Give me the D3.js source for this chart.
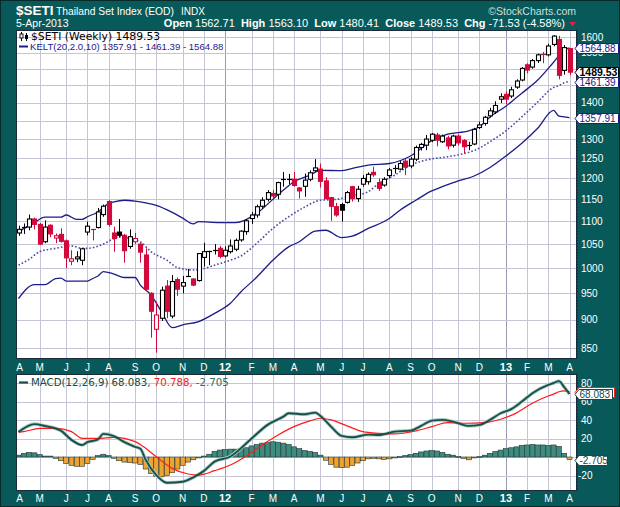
<!DOCTYPE html>
<html><head><meta charset="utf-8">
<script src="https://cdn.jsdelivr.net/npm/d3@7"></script>
<style>html,body{margin:0;padding:0;background:#085a5a;} svg{display:block}</style>
</head><body><svg id="c" width="620" height="507"></svg>
<script>
// ---- data (weekly bars, 8-Apr-2011 .. 5-Apr-2013) ----
const openP = [1074,1084,1087,1105,1093,1055,1091,1063,1071,1057, 1014,1019,1016,1076,1082,1086,1115,1145,1074,1076, 1069,1045,1055,1050,1027,950,883,903,964,907, 977,964,984,978,975,1022,1034,1034,1041,1025, 1034,1039,1059,1077,1106,1114,1134,1150,1164,1162, 1198,1197,1198,1177,1181,1198,1219,1223,1194,1154, 1133,1138,1143,1180,1152,1186,1192,1215,1190,1184, 1207,1224,1223,1243,1231,1248,1278,1284,1297,1311, 1293,1303,1284,1308,1296,1282,1287,1331,1342,1363, 1374,1410,1424,1419,1445,1466,1512,1505,1525,1545, 1543,1576,1592,1495,1562.71];
const highP = [1090,1095,1115,1108,1096,1102,1093,1073,1084,1060, 1037,1035,1042,1099,1083,1130,1138,1148,1088,1105, 1072,1082,1074,1053,1041,952,934,963,976,986, 981,984,998,980,1031,1053,1036,1050,1046,1045, 1060,1062,1080,1105,1121,1138,1155,1172,1172,1192, 1216,1211,1216,1179,1212,1220,1248,1237,1203,1156, 1142,1142,1170,1182,1182,1208,1215,1229,1200,1203, 1226,1233,1243,1248,1253,1283,1290,1311,1316,1317, 1312,1309,1312,1313,1300,1293,1330,1347,1363,1385, 1404,1427,1432,1446,1468,1505,1517,1530,1547,1552, 1578,1606,1604,1574,1563.10];
const lowP = [1068,1072,1080,1082,1048,1052,1065,1052,1053,1000, 1006,1012,1006,1069,1058,1084,1110,1088,1034,1064, 1011,1040,1050,1011,955,868,842,898,903,903, 945,950,983,964,973,1003,1006,1028,1020,1022, 1030,1035,1055,1070,1094,1108,1128,1145,1148,1150, 1180,1186,1180,1152,1156,1193,1216,1178,1150,1101, 1110,1099,1140,1145,1144,1180,1185,1204,1170,1180, 1200,1212,1220,1208,1225,1243,1270,1271,1292,1281, 1290,1273,1278,1283,1262,1271,1284,1327,1336,1358, 1368,1399,1396,1413,1440,1462,1486,1500,1518,1517, 1538,1570,1468,1482,1480.41];
const closeP = [1082,1087,1105,1093,1050,1087,1072,1068,1056,1021, 1019,1023,1040,1089,1079,1121,1134,1093,1062,1069, 1036,1066,1062,1033,958,916,909,956,916,973, 958,971,985,966,1030,1034,1035,1037,1024,1037, 1046,1058,1078,1101,1114,1133,1148,1166,1158,1190, 1196,1198,1183,1170,1196,1214,1226,1193,1152,1134, 1114,1125,1166,1152,1174,1200,1210,1209,1176,1198, 1221,1225,1237,1228,1248,1278,1286,1300,1313,1297, 1308,1282,1308,1290,1280,1284,1326,1338,1359,1377, 1392,1417,1410,1437,1463,1501,1496,1525,1543,1541, 1571,1603,1480,1566,1489.53];

// Keltner channel readings [barIndex, value]
const keltUpper = [[0,1077],[3,1097],[5,1109],[8,1109],[9,1114],[11,1104],[12,1104],[13,1110],[15,1121],[17,1140],[18,1144],[20,1148],[22,1146],[24,1142],[26,1136],[29,1120],[31,1107],[33,1094],[34,1099],[38,1097],[41,1097],[45,1118],[48,1150],[50,1172],[52,1192],[55,1208],[57,1220],[61,1219],[63,1225],[66,1233],[70,1237],[74,1256],[78,1296],[81,1313],[85,1322],[87,1333],[89,1360],[92,1390],[95,1427],[98,1466],[101,1520],[103,1558],[104,1564.88]];
const keltMiddle = [[0,1006],[2,1018],[4,1034],[7,1041],[10,1046],[12,1041],[13,1041],[16,1050],[18,1062],[19,1066],[21,1062],[23,1055],[25,1034],[28,1016],[30,1001],[33,996],[35,999],[37,1006],[40,1016],[42,1025],[45,1052],[48,1084],[51,1110],[54,1132],[57,1148],[60,1150],[62,1156],[66,1168],[68,1188],[71,1208],[74,1233],[77,1246],[81,1254],[84,1262],[86,1270],[89,1293],[92,1322],[95,1360],[98,1402],[101,1444],[102,1449],[103,1458],[104,1461.39]];
const keltLower = [[0,940],[3,967],[5,967],[7,979],[8,980],[9,974],[13,974],[14,979],[15,984],[16,993],[18,988],[20,981],[22,981],[23,966],[25,947],[27,915],[29,886],[31,891],[34,897],[37,912],[40,931],[42,953],[45,982],[48,1016],[51,1044],[53,1055],[56,1078],[58,1080],[61,1064],[63,1067],[66,1084],[70,1106],[72,1125],[75,1148],[78,1170],[80,1180],[83,1194],[86,1206],[89,1227],[92,1256],[95,1289],[98,1329],[101,1378],[102,1362],[103,1360],[104,1357.91]];

// MACD(12,26,9) readings [barIndex, value]
const macdLine = [[0,27],[3,35.5],[5,33.5],[8,28.5],[10,18.5],[12,13],[13,16],[15,19],[16,25],[18,22.5],[20,16],[22,11],[23,9],[24,-3],[26,-19.5],[28,-27.8],[31,-26.7],[33,-22],[35,-15],[37,-5],[40,0.5],[41,4.7],[44,20],[47,34.7],[50,43.7],[51,47.3],[54,46.2],[56,48],[57,44.4],[59,32.8],[61,22.8],[63,21.3],[66,24.2],[68,23.8],[71,27.4],[74,28.5],[76,33.6],[78,39.3],[80,40.1],[82,38.3],[85,33.6],[87,34.7],[89,40.1],[91,47.3],[93,51.7],[95,59.9],[97,69],[100,78],[101,80],[102,82],[103,75.5],[104,68.083]];
const signalLine = [[0,27],[1,27.4],[4,31],[7,31],[10,27.4],[12,20.2],[15,20.2],[18,21.3],[22,16.6],[24,9.4],[26,0.3],[29,-12.3],[32,-18.4],[34,-19.5],[37,-14.8],[40,-8.7],[43,1.1],[46,13],[49,23.8],[52,32.8],[55,39],[57,41.9],[59,40.1],[62,33.6],[65,27.4],[68,25.6],[71,24.9],[75,28.2],[78,32.8],[81,37.2],[84,36.5],[88,37.2],[91,40.8],[94,47.7],[97,58.2],[100,66],[101,68],[102,70.5],[103,71.5],[104,70.788]];
const macdHist = [2,4,5,4.5,2.5,1,1,-1.5,-4,-7, -9,-10,-10,-7,-2.5,1.5,3,1.5,-1.5,-4, -5.5,-6,-6.5,-8,-13,-18,-21,-21.5,-20,-17, -13,-9,-5.5,-3,-1,1,3,6,7.5,8, 8.5,8.5,9,10,12,13.5,15,15.5,16.5,16, 15,13.5,11,9,7,6,5,2,-3.5,-8, -11,-11.5,-11,-9,-6.5,-4,-2,-1.5,-2,-2.5, -2,-1,0.5,1.5,2.5,4,5.5,6.5,7,6.5, 5,3,2,0.5,-1.5,-3,-1,0.5,2,4, 6,7.5,9,10,11,12.5,13,13.5,13,13, 12.5,13,11.5,4,-2.705];

const priceTicks = [850,900,950,1000,1050,1100,1150,1200,1250,1300,1350,1400,1450,1500,1550,1600];
const macdTicks = [-20,0,20,40,60,80];
const monthIdx = [0,4,9,13,17,22,26,31,35,39,44,48,52,57,61,65,70,74,78,83,87,92,96,100,104];
const monthLabels = ["A","M","J","J","A","S","O","N","D","12","F","M","A","M","J","J","A","S","O","N","D","13","F","M","A"];

// ---- layout ----
const svg = d3.select("#c");
const TEAL = "#085a5a";
const P = {l:16, r:576, t:30, b:358};
const M = {l:16, r:576, t:374, b:490};
const x = d3.scaleLinear().domain([0,104]).range([18.5,569.5]);
const y = d3.scaleLog().domain([850,1600]).range([348,37]);
const ym = d3.scaleLinear().domain([-20,80]).range([475.5,383]);
const sans = "'Liberation Sans', Arial, sans-serif";
const dv = "'DejaVu Sans', Verdana, sans-serif";

svg.append("rect").attr("width",620).attr("height",507).attr("fill",TEAL);

function panel(R){
  svg.append("rect").attr("x",R.l+0.5).attr("y",R.t+0.5).attr("width",R.r-R.l).attr("height",R.b-R.t).attr("fill","#fff");
}
panel(P); panel(M);

// gridlines
const gridC = "#c5c5d6", yearC = "#9a9aae";
function vgrid(R){
  monthIdx.forEach((mi,k)=>{
    if(mi===0) return;
    const xx = Math.round(x(mi))+0.5;
    const yr = /\d/.test(monthLabels[k]);
    svg.append("line").attr("x1",xx).attr("x2",xx).attr("y1",R.t).attr("y2",R.b)
      .attr("stroke", yr?yearC:gridC).attr("stroke-width",1);
  });
}
vgrid(P); vgrid(M);
priceTicks.forEach(v=>{
  const yy = Math.round(y(v))+0.5;
  svg.append("line").attr("x1",P.l).attr("x2",P.r).attr("y1",yy).attr("y2",yy).attr("stroke",gridC);
});
macdTicks.forEach(v=>{
  const yy = Math.round(ym(v))+0.5;
  svg.append("line").attr("x1",M.l).attr("x2",M.r).attr("y1",yy).attr("y2",yy).attr("stroke",gridC);
});

// Keltner channels
const kline = d3.line().x(d=>x(d[0])).y(d=>y(d[1])).curve(d3.curveMonotoneX);
svg.append("path").attr("d",kline(keltUpper)).attr("fill","none").attr("stroke","#1c1c8a").attr("stroke-width",1.3);
svg.append("path").attr("d",kline(keltLower)).attr("fill","none").attr("stroke","#1c1c8a").attr("stroke-width",1.3);
svg.append("path").attr("d",kline(keltMiddle)).attr("fill","none").attr("stroke","#4a4aa8").attr("stroke-width",1.6).attr("stroke-dasharray","1.6,2");

// candles
const RED = "#d20a3c";
const cg = svg.append("g");
openP.forEach((o,i)=>{
  const c = closeP[i], h = highP[i], l = lowP[i];
  const prev = i>0 ? closeP[i-1] : o;
  const col = c >= prev ? "#000" : RED;
  const hollow = c >= o;
  const cx = Math.round(x(i))+0.5;
  cg.append("line").attr("x1",cx).attr("x2",cx).attr("y1",y(h)).attr("y2",y(l)).attr("stroke",col).attr("stroke-width",1);
  const top = y(Math.max(o,c)), bot = y(Math.min(o,c));
  const hgt = Math.max(bot-top, 1);
  if (bot-top < 1.5) {
    cg.append("line").attr("x1",cx-2.5).attr("x2",cx+2.5).attr("y1",Math.round(top)+0.5).attr("y2",Math.round(top)+0.5).attr("stroke",col).attr("stroke-width",1.2);
  } else {
    cg.append("rect").attr("x",cx-2).attr("y",top).attr("width",4).attr("height",hgt)
      .attr("fill", hollow ? "#fff" : col).attr("stroke",col).attr("stroke-width",1.1);
  }
});

// MACD histogram
const bw = (x(1)-x(0)) - 0.3;
macdHist.forEach((v,i)=>{
  const y0 = ym(0), y1 = ym(v);
  svg.append("rect").attr("x",x(i)-bw/2).attr("y",Math.min(y0,y1)).attr("width",bw).attr("height",Math.max(Math.abs(y1-y0),0.8))
    .attr("fill", v>=0 ? "#3e8c7f" : "#f0a22e").attr("stroke","#1f3535").attr("stroke-width",0.6);
});
const mline = d3.line().x(d=>x(d[0])).y(d=>ym(d[1])).curve(d3.curveMonotoneX);
svg.append("path").attr("d",mline(macdLine)).attr("fill","none").attr("stroke","#a9cfc8").attr("stroke-width",3.6);
svg.append("path").attr("d",mline(signalLine)).attr("fill","none").attr("stroke","#ff1a1a").attr("stroke-width",1.2);
svg.append("path").attr("d",mline(macdLine)).attr("fill","none").attr("stroke","#1d4f4a").attr("stroke-width",1.9);

// frames
[P,M].forEach(R=>{
  svg.append("rect").attr("x",R.l+0.5).attr("y",R.t+0.5).attr("width",R.r-R.l).attr("height",R.b-R.t)
    .attr("fill","none").attr("stroke","#1b2b3b").attr("stroke-width",1);
  svg.append("line").attr("x1",R.r+1.5).attr("x2",R.r+1.5).attr("y1",R.t).attr("y2",R.b)
    .attr("stroke","#10304a").attr("stroke-dasharray","1,2");
});

// legends
const lg = svg.append("g");
// candle icon
lg.append("line").attr("x1",21.5).attr("x2",21.5).attr("y1",32).attr("y2",41).attr("stroke","#000");
lg.append("rect").attr("x",20).attr("y",34).attr("width",3).attr("height",4).attr("fill","#fff").attr("stroke","#000").attr("stroke-width",0.9);
lg.append("line").attr("x1",26.5).attr("x2",26.5).attr("y1",33).attr("y2",41).attr("stroke","#000");
lg.append("rect").attr("x",25).attr("y",35).attr("width",3).attr("height",4).attr("fill","#000");
lg.append("text").attr("x",31).attr("y",39.5).attr("font-family",dv).attr("font-size",10.8).attr("fill","#000").text("$SETI (Weekly) 1489.53");
lg.append("line").attr("x1",19).attr("x2",28).attr("y1",46.5).attr("y2",46.5).attr("stroke","#1c1c8a").attr("stroke-width",2);
lg.append("text").attr("x",30).attr("y",50).attr("font-family",sans).attr("font-size",9.6).attr("fill","#1c1c8a").text("KELT(20,2.0,10) 1357.91 - 1461.39 - 1564.88");

lg.append("line").attr("x1",19).attr("x2",28).attr("y1",382.5).attr("y2",382.5).attr("stroke","#1d4f4a").attr("stroke-width",2.2);
const mt = lg.append("text").attr("x",31).attr("y",386).attr("font-family",dv).attr("font-size",10.2);
mt.append("tspan").attr("fill","#184a46").text("MACD(12,26,9) 68.083, ");
mt.append("tspan").attr("fill","#ee1c1c").text("70.788, ");
mt.append("tspan").attr("fill","#2e6e66").text("-2.705");

// header
const hd = svg.append("g").attr("fill","#fff");
hd.append("text").attr("x",16).attr("y",14.5).attr("font-family",sans).attr("font-weight","bold").attr("font-size",13.5).text("$SETI");
hd.append("text").attr("x",56).attr("y",14.5).attr("font-family",sans).attr("font-size",10.3).text("Thailand Set Index (EOD)");
hd.append("text").attr("x",181).attr("y",14.5).attr("font-family",sans).attr("font-size",10).text("INDX");
hd.append("text").attr("x",576).attr("y",14.5).attr("text-anchor","end").attr("font-family",sans).attr("font-size",10.5).attr("fill","#cfdede").text("\u00A9StockCharts.com");
hd.append("text").attr("x",16).attr("y",27).attr("font-family",sans).attr("font-size",10.5).text("5-Apr-2013");
const info = hd.append("text").attr("x",565).attr("y",27).attr("text-anchor","end").attr("font-family",sans).attr("font-size",11);
[["Open",1],[" 1562.71  ",0],["High",1],[" 1563.10  ",0],["Low",1],[" 1480.41  ",0],["Close",1],[" 1489.53  ",0],["Chg",1],[" -71.53 (-4.58%)",0]]
  .forEach(([t,b])=>info.append("tspan").attr("font-weight",b?"bold":"normal").attr("xml:space","preserve").text(t));
info.attr("style","white-space:pre");
hd.append("path").attr("d","M569,22 L576,22 L572.5,26.5 Z").attr("fill","#e0204a");

// x-axis labels
[370.5, 501.5].forEach(yy=>{
  monthIdx.forEach((mi,k)=>{
    const yr = /\d/.test(monthLabels[k]);
    svg.append("text").attr("x",x(mi)+(mi===0?1:0)).attr("y",yy).attr("text-anchor","middle")
      .attr("font-family",sans).attr("font-size",yr?11:10).attr("font-weight",yr?"bold":"normal")
      .attr("fill","#fff").text(monthLabels[k]);
  });
});

// right axis labels
const boxesMain = [[1564.88,"#1c1c8a",false],[1489.53,"#000",true],[1461.39,"#1c1c8a",false],[1357.91,"#1c1c8a",false]];
priceTicks.forEach(v=>{
  const yy = y(v);
  if (boxesMain.some(b=>Math.abs(y(b[0])-yy)<4)) return;
  svg.append("text").attr("x",581).attr("y",yy+3.5).attr("font-family",sans).attr("font-size",10).attr("fill","#fff").text(v);
});
const macdBoxVals = [70.788, 68.083, -2.705];
macdTicks.forEach(v=>{
  const yy = ym(v);
  if (Math.abs(yy-ym(-2.705))<4) return;
  svg.append("text").attr("x",v<0?578:581).attr("y",yy+3.5).attr("font-family",sans).attr("font-size",10).attr("fill","#fff").text(v);
});

function valueBox(cy, txt, col, bold, x1){
  const x0 = 575;
  svg.append("path").attr("d",`M${x0},${cy} L${x0+4},${cy-5} L${x1},${cy-5} L${x1},${cy+5} L${x0+4},${cy+5} Z`)
    .attr("fill","#fff").attr("stroke",col).attr("stroke-width",1);
  if (txt) svg.append("text").attr("x",579.5).attr("y",cy+3.6).attr("font-family",sans).attr("font-size",bold?10.5:10)
    .attr("font-weight",bold?"bold":"normal").attr("fill",col).text(txt);
}
boxesMain.forEach(b=>valueBox(Math.round(y(b[0]))+0.5, b[0].toFixed(2), b[1], b[2], 618.5));
valueBox(Math.round(ym(70.788))+0.5, "", "#ff1a1a", false, 614.5);
valueBox(Math.round(ym(68.083))+0.5, "68.083", "#184a46", false, 612.5);
valueBox(Math.round(ym(-2.705))+0.5, "-2.705", "#184a46", false, 607.5);

// outer border
svg.append("rect").attr("x",0.5).attr("y",0.5).attr("width",619).attr("height",506).attr("fill","none").attr("stroke","#0a2a2a");
</script></body></html>
